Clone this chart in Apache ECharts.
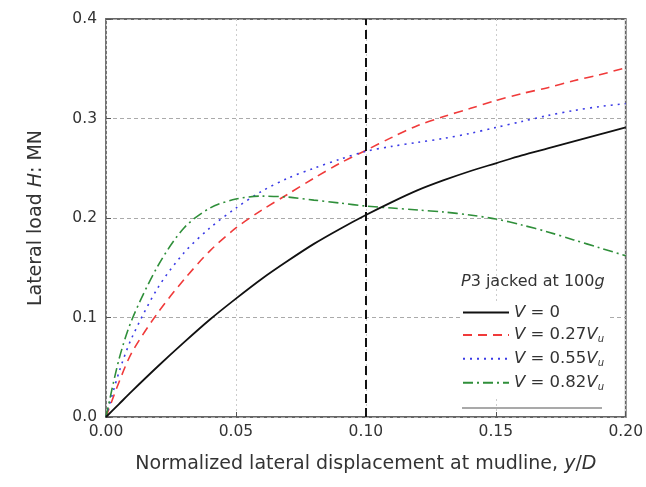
<!DOCTYPE html>
<html>
<head>
<meta charset="utf-8">
<script src="https://cdn.jsdelivr.net/npm/echarts@6/dist/echarts.min.js"></script>
<style>
  html, body { margin: 0; padding: 0; background: #fff; }
  #chart { width: 646px; height: 487px; }
</style>
</head>
<body>
<div id="chart"></div>
<script>
// 横向位移 y/D
var xData = [0, 0.005, 0.01, 0.02, 0.03, 0.04, 0.05, 0.06, 0.07, 0.08, 0.09, 0.10,
  0.11, 0.12, 0.13, 0.14, 0.15, 0.16, 0.17, 0.18, 0.19, 0.20];
// 各竖向荷载下的水平荷载 H (MN)
var h0 = [0, 0.013, 0.026, 0.051, 0.075, 0.098, 0.119, 0.139, 0.157, 0.174, 0.189, 0.203,
  0.216, 0.228, 0.238, 0.247, 0.255, 0.263, 0.270, 0.277, 0.284, 0.291];
var h027 = [0, 0.035, 0.065, 0.105, 0.138, 0.167, 0.190, 0.208, 0.224, 0.240, 0.255, 0.268,
  0.281, 0.293, 0.302, 0.310, 0.318, 0.325, 0.331, 0.338, 0.344, 0.351];
var h055 = [0, 0.045, 0.080, 0.130, 0.165, 0.190, 0.210, 0.227, 0.240, 0.250, 0.259, 0.267,
  0.272, 0.276, 0.280, 0.285, 0.291, 0.297, 0.303, 0.308, 0.312, 0.315];
var h082 = [0, 0.058, 0.098, 0.152, 0.190, 0.210, 0.219, 0.222, 0.221, 0.218, 0.215, 0.212,
  0.210, 0.208, 0.206, 0.203, 0.199, 0.193, 0.186, 0.178, 0.170, 0.162];
var legendNames = ['V0', 'V027', 'V055', 'V082'];
var legendLabels = ['{i|V} = 0', '{i|V} = 0.27{i|V}{s|u}', '{i|V} = 0.55{i|V}{s|u}', '{i|V} = 0.82{i|V}{s|u}'];

function pairs (ys) {
  return xData.map(function (x, i) { return [x, ys[i]]; });
}

var chart = echarts.init(document.getElementById('chart'));
var font = 'DejaVu Sans, Verdana, sans-serif';
var textColor = '#333';
function txt (size, italic) {
  return { fontSize: size, fontFamily: font, color: textColor, fontWeight: 'normal', fontStyle: italic ? 'italic' : 'normal' };
}
var legendRich = {
  a: txt(16.5), i: txt(16.5, true),
  s: { fontStyle: 'italic', fontSize: 10, fontFamily: font, color: textColor, verticalAlign: 'bottom', padding: [10, 0, 0, 0] }
};

var option = {
  animation: false,
  backgroundColor: '#fff',
  textStyle: { fontFamily: font },
  title: {
    left: 456,
    top: 269,
    text: '{i|P}{a|3 jacked at 100}{i|g}',
    textStyle: { rich: { a: txt(16), i: txt(16, true) } }
  },
  grid: {
    left: 106,
    right: 16,
    top: 19,
    bottom: 70,
    show: true,
    borderColor: '#666',
    borderWidth: 1.8
  },
  legend: {
    orient: 'vertical',
    left: 460,
    top: 302,
    itemWidth: 46,
    itemHeight: 14,
    itemGap: 5.4,
    padding: [2, 4, 4, 2],
    backgroundColor: '#fff',
    data: legendNames,
    itemStyle: { opacity: 0 },
    formatter: function (name) {
      return legendLabels[legendNames.indexOf(name)];
    },
    textStyle: { fontSize: 16.5, color: textColor, fontFamily: font, rich: legendRich }
  },
  graphic: [{
    type: 'line',
    shape: { x1: 462, y1: 408, x2: 602, y2: 408 },
    style: { stroke: '#555', lineWidth: 1.2 }
  }],
  xAxis: {
    type: 'value',
    min: 0,
    max: 0.2,
    interval: 0.05,
    name: '{a|Normalized lateral displacement at mudline, }{i|y}{a|/}{i|D}',
    nameLocation: 'middle',
    nameGap: 38,
    nameTextStyle: { rich: { a: txt(19), i: txt(19, true) } },
    axisLine: { show: false },
    axisTick: { show: true, inside: true, length: 5, lineStyle: { color: '#555' } },
    axisLabel: {
      color: textColor,
      fontSize: 15.5,
      fontFamily: font,
      margin: 7,
      formatter: function (v) { return v.toFixed(2); }
    },
    splitLine: { show: true, lineStyle: { color: '#ccc', type: [2, 3], width: 1 } }
  },
  yAxis: {
    type: 'value',
    min: 0,
    max: 0.4,
    interval: 0.1,
    name: '{a|Lateral load }{i|H}{a|: MN}',
    nameLocation: 'middle',
    nameGap: 60,
    nameTextStyle: { rich: { a: txt(19), i: txt(19, true) } },
    axisLine: { show: false },
    axisTick: { show: true, inside: true, length: 5, lineStyle: { color: '#555' } },
    axisLabel: {
      color: textColor,
      fontSize: 15.5,
      fontFamily: font,
      margin: 9,
      formatter: function (v) { return v.toFixed(1); }
    },
    splitLine: { show: true, lineStyle: { color: '#aaa', type: [4, 3], width: 1 } }
  },
  series: [{
    name: 'V0',
    type: 'line',
    data: pairs(h0),
    smooth: 0.3,
    symbol: 'none',
    z: 5,
    lineStyle: { color: '#111', width: 1.8, type: 'solid' },
    itemStyle: { color: '#111' },
    markLine: {
      silent: true,
      symbol: 'none',
      label: { show: false },
      lineStyle: { color: '#111', type: [9, 5], width: 2 },
      data: [{ xAxis: 0.1 }]
    }
  }, {
    name: 'V027',
    type: 'line',
    data: pairs(h027),
    smooth: 0.3,
    symbol: 'none',
    lineStyle: { color: '#f03a3a', width: 1.6, type: [9, 6] },
    itemStyle: { color: '#f03a3a' }
  }, {
    name: 'V055',
    type: 'line',
    data: pairs(h055),
    smooth: 0.3,
    symbol: 'none',
    lineStyle: { color: '#3a3ae6', width: 1.6, type: [2, 5] },
    itemStyle: { color: '#3a3ae6' }
  }, {
    name: 'V082',
    type: 'line',
    data: pairs(h082),
    smooth: 0.3,
    symbol: 'none',
    lineStyle: { color: '#2f8f3a', width: 1.6, type: [10, 4, 2, 4] },
    itemStyle: { color: '#2f8f3a' }
  }]
};
chart.setOption(option, true);
</script>
</body>
</html>
